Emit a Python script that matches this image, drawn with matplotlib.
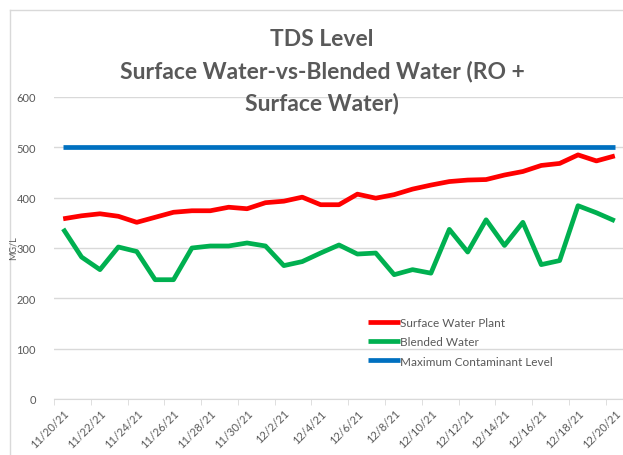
import numpy as np
import pandas as pd
import matplotlib
matplotlib.use("Agg")
import matplotlib.pyplot as plt
from matplotlib.lines import Line2D

# 数据
dates = pd.date_range("2021-11-20", "2021-12-20", freq="D")
surface_water = [358, 364, 368, 363, 351, 361, 371, 374, 374, 381, 378, 390, 393, 401, 386, 386,
                 407, 399, 406, 417, 425, 432, 435, 436, 445, 452, 464, 468, 485, 473, 483]
blended_water = [338, 282, 257, 302, 293, 237, 237, 300, 304, 304, 310, 304, 265, 273, 290, 306,
                 288, 290, 247, 257, 250, 337, 292, 356, 305, 351, 267, 275, 384, 370, 354]
mcl_value = 500
series_labels = ["Surface Water Plant", "Blended Water", "Maximum Contaminant Level"]
y_ticks = [0, 100, 200, 300, 400, 500, 600]

TEXT = "#595959"
GRID = "#d9d9d9"
W, H = 623, 456

plt.rcParams["font.family"] = ["Lato", "DejaVu Sans"]

fig = plt.figure(figsize=(W / 100, H / 100), dpi=100)
ax = fig.add_axes([54 / W, 1 - 400 / H, 570 / W, 302 / H])

x = np.arange(len(dates))
ax.plot(x, surface_water, color="#ff0000", lw=3.4, solid_capstyle="butt", label=series_labels[0])
ax.plot(x, blended_water, color="#00b050", lw=3.4, solid_capstyle="butt", label=series_labels[1])
ax.plot(x, [mcl_value] * len(x), color="#0070c0", lw=3.4, solid_capstyle="butt", label=series_labels[2])

ax.set_xlim(-0.5, len(x) - 0.5)
ax.set_ylim(0, 600)

# 坐标轴
ax.set_yticks(y_ticks)
ax.set_yticklabels([str(v) for v in y_ticks], fontsize=8, color=TEXT)
ax.tick_params(axis="y", length=0, pad=13)
ax.grid(axis="y", color=GRID, lw=1)
ax.set_axisbelow(True)

ax.set_xticks(x[::2])
ax.set_xticklabels([d.strftime("%-m/%-d/%y") for d in dates[::2]], rotation=45,
                   ha="right", va="top", rotation_mode="anchor", fontsize=8, color=TEXT)
ax.set_xticks(np.arange(-0.5, len(x), 2), minor=True)
ax.tick_params(axis="x", which="major", length=0, pad=6)
ax.tick_params(axis="x", which="minor", length=4, color=GRID)

for s in ["top", "right", "left"]:
    ax.spines[s].set_visible(False)
ax.spines["bottom"].set_color(GRID)

fig.text(13.5 / W, 1 - 248 / H, "MG/L", rotation=90, fontsize=6.5, color=TEXT,
         ha="center", va="center")

# 标题
for txt, yp in [("TDS Level", 40), ("Surface Water-vs-Blended Water (RO +", 72),
                ("Surface Water)", 103)]:
    fig.text(322 / W, 1 - yp / H, txt, fontsize=16.5, fontweight="bold",
             color=TEXT, ha="center", va="center")

# 图例
leg = ax.legend(loc="upper left", bbox_to_anchor=(368 / W, 1 - 318 / H),
                bbox_transform=fig.transFigure, frameon=False, fontsize=8.5,
                handlelength=2.7, handletextpad=0.05, borderpad=0, borderaxespad=0,
                labelspacing=0.7)
for t in leg.get_texts():
    t.set_color(TEXT)

# 图表外框
fig.add_artist(Line2D([10 / W, 10 / W], [0, 1 - 11 / H], transform=fig.transFigure,
                      color=GRID, lw=1))
fig.add_artist(Line2D([10 / W, 1], [1 - 11 / H, 1 - 11 / H], transform=fig.transFigure,
                      color=GRID, lw=1))

fig.savefig("out.png", dpi=100)
